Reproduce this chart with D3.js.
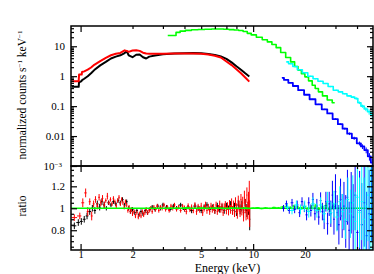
<!DOCTYPE html>
<html>
<head>
<meta charset="utf-8">
<script src="https://cdn.jsdelivr.net/npm/d3@7"></script>
<style>
body { margin: 0; background: #fff; }
svg { display: block; font-family: "Liberation Serif", "Times New Roman", "DejaVu Serif", serif; }
.domain { display: none; }
.tick line { stroke: #000; stroke-width: 1.2; }
.tick text { font-family: "Liberation Serif", "Times New Roman", "DejaVu Serif", serif; font-size: 11px; fill: #000; }
</style>
</head>
<body>
<svg width="374" height="274"></svg>
<script>
/*
DATA
*/
// soft band spectra (black and red share the energy grid), keV
var softEnergy = [0.89,0.975,0.98,1.0,1.015,1.02,1.05,1.1,1.15,1.2,1.3,1.4,1.5,1.6,1.7,1.8,1.85,1.9,2.0,2.1,2.2,2.3,2.4,2.5,2.7,3.0,3.5,4.0,4.5,5.0,5.5,6.0,6.5,7.0,7.5,8.0,8.5,9.0,9.5];
var blackCounts = [0.44,0.44,0.65,0.65,0.7,0.74,0.82,1.0,1.25,1.6,2.3,3.0,3.9,4.5,5.0,5.9,6.8,5.0,4.3,5.2,5.3,4.3,3.9,4.5,4.9,5.4,5.7,5.8,5.9,5.8,5.5,5.1,4.6,3.8,2.9,2.15,1.65,1.25,0.98];
var redCounts = [0.68,0.68,1.14,1.14,1.14,1.38,1.45,1.65,1.95,2.4,3.2,4.1,5.0,5.6,6.0,7.3,7.0,6.5,7.2,7.4,7.0,6.1,5.7,5.6,5.6,5.6,5.7,5.7,5.7,5.6,5.3,4.8,4.2,3.1,2.35,1.7,1.25,0.9,0.66];

var greenEnergy = [3.2,3.5,3.65,3.9,4.2,4.6,5.0,5.5,6.0,6.5,7.0,7.5,8.0,8.5,9.0,9.5,10,10.9,11.7,12.5,13.2,14,14.9,16,17,17.8,18.6,19.5,20.4,21.5,22.5,23.3,24.5,26,27.8,29.7];
var greenCounts = [23,23,29,32,34,35.5,36.5,37,37.5,37.5,37,36,35,33.5,31,27,24,20,16.5,14,11.5,9,6.2,4.2,3.0,2.1,1.6,1.2,0.95,0.7,0.5,0.39,0.3,0.22,0.16,0.13];

var cyanEnergy = [15.6,16.5,17.5,18.6,20,21.5,23,24.5,26.4,28,30.3,32,34,36,38,39.6,41.3,43,45,47,49];
var cyanCounts = [3.0,2.6,2.1,1.65,1.3,1.0,0.82,0.68,0.57,0.45,0.34,0.3,0.26,0.22,0.2,0.18,0.13,0.1,0.08,0.065,0.05];
var cyanErr = [0.03,0.03,0.03,0.03,0.03,0.035,0.04,0.04,0.045,0.05,0.05,0.06,0.06,0.07,0.08,0.09,0.1,0.12,0.15,0.2,0.3];

var blueEnergy = [14.7,15.5,16.5,17.5,19.0,20.5,22,24,26,27.8,30,32,34,36.2,38.5,41.3,43,45.2,47.2,49];
var blueCounts = [0.88,0.75,0.6,0.47,0.34,0.24,0.17,0.115,0.078,0.057,0.037,0.025,0.0177,0.012,0.0085,0.0057,0.0045,0.0034,0.0021,0.0013];
var blueErr = [0.02,0.02,0.02,0.025,0.03,0.03,0.035,0.04,0.05,0.05,0.06,0.07,0.08,0.1,0.12,0.15,0.18,0.22,0.28,0.35];

// ratio panel: [energy, ratio, error]
var blackRatio = [[0.92,0.84,0.03],[0.97,0.87,0.03],[1.01,0.88,0.03],[1.05,0.90,0.03],[1.09,0.93,0.03],[1.13,0.97,0.03],[1.17,1.00,0.03],[1.21,0.98,0.03],[1.25,1.04,0.03],[1.29,1.01,0.03],[1.33,1.06,0.03],[1.37,1.03,0.03],[1.41,1.00,0.02],[1.45,1.05,0.02],[1.50,1.03,0.02],[1.55,1.06,0.02],[1.60,1.04,0.02],[1.65,1.07,0.02],[1.70,1.05,0.02],[1.75,1.08,0.02],[1.80,1.03,0.02],[1.85,1.06,0.02],[1.90,1.00,0.02],[1.95,0.97,0.02],[2.00,0.99,0.02],[2.06,0.96,0.02],[2.12,0.98,0.02],[2.18,0.94,0.02],[2.24,0.97,0.02],[2.30,0.95,0.02],[2.37,0.98,0.02],[2.44,0.96,0.02],[2.52,0.99,0.02],[2.60,1.01,0.02],[2.70,0.99,0.02],[2.80,1.02,0.02],[2.90,1.00,0.02],[3.0,1.03,0.02],[3.15,1.01,0.02],[3.3,0.99,0.02],[3.45,1.02,0.02],[3.6,1.00,0.02],[3.8,1.03,0.02],[4.0,0.99,0.02],[4.2,1.01,0.02],[4.4,0.98,0.025],[4.6,1.02,0.025],[4.8,1.00,0.025],[5.0,0.98,0.025],[5.2,1.01,0.025],[5.4,1.03,0.025],[5.6,0.99,0.025],[5.8,1.01,0.025],[6.0,0.98,0.03],[6.2,1.02,0.03],[6.4,0.99,0.03],[6.6,1.01,0.03],[6.8,0.98,0.03],[7.0,1.02,0.03],[7.2,0.99,0.035],[7.4,1.03,0.035],[7.6,0.98,0.035],[7.8,1.01,0.04],[8.0,0.97,0.04],[8.2,1.03,0.04],[8.4,0.99,0.045],[8.6,1.02,0.05],[8.8,0.96,0.05],[9.0,1.03,0.055],[9.2,0.98,0.06],[9.4,1.01,0.07],[9.55,0.90,0.10]];
var redRatio = [[0.92,0.915,0.03],[0.99,0.93,0.03],[1.03,1.05,0.04],[1.07,1.14,0.04],[1.10,0.97,0.04],[1.13,1.06,0.03],[1.16,0.93,0.04],[1.19,1.04,0.03],[1.22,1.08,0.03],[1.25,1.02,0.03],[1.28,1.10,0.03],[1.31,1.05,0.03],[1.34,1.09,0.03],[1.37,1.03,0.03],[1.40,1.07,0.02],[1.43,1.11,0.03],[1.46,1.05,0.02],[1.49,1.08,0.02],[1.52,1.04,0.02],[1.55,1.09,0.02],[1.58,1.06,0.02],[1.61,1.02,0.02],[1.64,1.07,0.02],[1.67,1.10,0.02],[1.70,1.04,0.02],[1.73,1.08,0.02],[1.76,1.05,0.02],[1.79,1.01,0.02],[1.82,1.06,0.02],[1.85,1.03,0.02],[1.88,0.98,0.02],[1.91,1.01,0.02],[1.94,0.97,0.02],[1.97,0.99,0.02],[2.00,0.95,0.02],[2.04,0.97,0.02],[2.08,0.93,0.02],[2.12,0.96,0.02],[2.16,0.92,0.02],[2.20,0.95,0.02],[2.24,0.93,0.02],[2.28,0.97,0.02],[2.32,0.94,0.02],[2.36,0.96,0.02],[2.40,0.99,0.02],[2.45,0.96,0.02],[2.50,0.98,0.02],[2.55,1.00,0.02],[2.60,0.97,0.02],[2.66,1.01,0.02],[2.72,0.99,0.02],[2.78,1.02,0.02],[2.84,0.98,0.02],[2.90,1.01,0.02],[2.97,1.00,0.02],[3.04,1.03,0.02],[3.11,0.99,0.02],[3.18,1.01,0.02],[3.26,0.98,0.02],[3.34,1.02,0.02],[3.42,1.00,0.02],[3.50,1.03,0.02],[3.6,0.99,0.02],[3.7,1.01,0.02],[3.8,0.98,0.02],[3.9,1.02,0.02],[4.0,1.00,0.025],[4.1,0.97,0.025],[4.2,1.02,0.025],[4.3,0.99,0.025],[4.4,1.01,0.025],[4.5,0.98,0.025],[4.6,1.03,0.025],[4.7,0.97,0.03],[4.8,1.01,0.03],[4.9,0.99,0.03],[5.0,1.02,0.03],[5.1,0.96,0.03],[5.2,1.00,0.03],[5.3,1.03,0.03],[5.4,0.98,0.03],[5.5,1.01,0.03],[5.6,0.97,0.03],[5.7,1.02,0.03],[5.8,0.99,0.03],[5.9,1.01,0.03],[6.0,0.98,0.03],[6.1,1.03,0.03],[6.2,0.97,0.03],[6.3,1.00,0.03],[6.4,1.04,0.03],[6.5,0.99,0.03],[6.6,1.02,0.03],[6.7,0.96,0.03],[6.8,1.01,0.035],[6.9,1.03,0.035],[7.0,0.98,0.035],[7.1,1.02,0.035],[7.2,0.97,0.035],[7.3,1.04,0.035],[7.4,0.99,0.04],[7.5,1.05,0.04],[7.6,0.98,0.04],[7.7,1.03,0.04],[7.8,0.96,0.04],[7.9,1.06,0.04],[8.0,1.00,0.045],[8.1,0.95,0.045],[8.2,1.07,0.045],[8.3,1.02,0.05],[8.4,0.97,0.05],[8.5,1.08,0.05],[8.6,0.99,0.055],[8.7,1.05,0.055],[8.8,0.94,0.06],[8.9,1.10,0.06],[9.0,1.02,0.065],[9.1,0.96,0.07],[9.2,1.12,0.07],[9.3,0.98,0.08],[9.4,1.06,0.09],[9.5,1.07,0.18],[9.55,0.95,0.12]];
var greenRatio = [[3.3,1.0,0.004],[3.7,1.0,0.004],[4.1,1.005,0.004],[4.5,0.998,0.004],[5.0,1.003,0.004],[5.5,0.997,0.004],[6.0,1.002,0.004],[6.5,1.0,0.004],[7.0,0.996,0.004],[7.5,1.003,0.004],[8.0,1.0,0.004],[8.5,0.998,0.004],[9.0,1.004,0.005],[9.5,0.997,0.005],[10,1.002,0.005],[10.6,1.006,0.005],[11.2,0.996,0.005],[11.8,1.004,0.006],[12.5,0.998,0.006],[13.2,1.008,0.007],[14,1.004,0.008],[14.8,1.012,0.009],[15.6,1.018,0.01],[16.4,1.008,0.011],[17.2,1.02,0.012],[18,1.012,0.013],[18.9,1.005,0.014],[19.8,1.016,0.015],[20.8,0.995,0.016],[21.8,1.01,0.018],[22.9,1.02,0.02],[24,0.99,0.022],[25.2,1.012,0.025],[26.5,1.025,0.028],[27.8,0.99,0.03],[29.2,1.015,0.035]];
var blueRatio = [[15.0,1.00,0.03],[15.6,1.04,0.03],[16.2,0.98,0.03],[16.8,1.05,0.035],[17.4,0.99,0.035],[18.0,1.03,0.04],[18.6,0.96,0.04],[19.2,1.06,0.04],[19.8,1.01,0.045],[20.4,0.94,0.05],[21.0,1.05,0.05],[21.6,0.98,0.055],[22.2,1.08,0.06],[22.8,0.95,0.06],[23.4,1.02,0.065],[24.0,0.92,0.07],[24.6,1.07,0.075],[25.2,0.97,0.08],[25.8,0.90,0.09],[26.4,1.06,0.09],[27.0,0.86,0.10],[27.6,1.04,0.11],[28.2,0.95,0.12],[28.8,1.12,0.13],[29.4,0.90,0.14],[30.0,1.15,0.16],[30.7,0.96,0.16],[31.4,0.85,0.18],[32.1,1.08,0.19],[32.8,0.93,0.2],[33.6,1.02,0.22],[34.4,0.88,0.24],[35.2,1.10,0.25],[36.0,0.80,0.26],[37.0,1.05,0.28],[38.0,0.92,0.3],[39.0,1.12,0.32],[40.2,0.78,0.34],[41.4,0.98,0.36],[42.6,0.85,0.38],[44,1.05,0.4],[45.5,0.75,0.4],[47,0.95,0.4],[48.5,1.1,0.4]];
var cyanRatio = [[15.8,1.01,0.03],[16.8,0.98,0.035],[17.8,1.03,0.04],[18.8,0.99,0.045],[19.9,1.02,0.05],[21.0,0.97,0.055],[22.2,1.04,0.06],[23.4,0.98,0.065],[24.6,1.03,0.07],[25.8,0.95,0.08],[27.0,1.06,0.09],[28.2,0.96,0.1],[29.4,1.04,0.12],[30.6,0.92,0.13],[31.8,1.06,0.14],[33.0,0.97,0.16],[34.2,0.90,0.18],[35.4,1.08,0.2],[36.6,0.95,0.22],[37.8,1.05,0.25],[39.0,0.88,0.27],[40.2,1.10,0.3],[41.4,0.96,0.32],[42.6,1.06,0.35],[43.8,0.90,0.38],[45.0,1.02,0.4],[46.3,1.12,0.42],[47.6,0.92,0.45],[48.9,1.05,0.45]];

// ticks
var xLabels = [1, 2, 5, 10, 20];
var xMajor = [1, 10];
var xMinor = [2, 3, 4, 5, 6, 7, 8, 9, 20, 30, 40];
var topLabels = [10, 1, 0.1, 0.01, 0.001];
var ratioLabels = [0.8, 1, 1.2];

/*
LAYOUT
*/
var svg = d3.select("svg");
var xLeft = 71, xRight = 373, yTopEdge = 26, yMid = 166, yBottom = 250;

var x = d3.scaleLog().domain([0.88, 49.5]).range([xLeft, xRight]);
var yTop = d3.scaleLog().domain([0.001, 47.5]).range([yMid, yTopEdge]);
var yRat = d3.scaleLinear().domain([0.62, 1.385]).range([yBottom, yMid]);

// clip for the two panels
var defs = svg.append("defs");
defs.append("clipPath").attr("id", "clipTop").append("rect")
	.attr("x", xLeft).attr("y", yTopEdge).attr("width", xRight - xLeft).attr("height", yMid - yTopEdge);
defs.append("clipPath").attr("id", "clipRat").append("rect")
	.attr("x", xLeft).attr("y", yMid).attr("width", xRight - xLeft).attr("height", yBottom - yMid);

var gTop = svg.append("g").attr("clip-path", "url(#clipTop)");
var gRat = svg.append("g").attr("clip-path", "url(#clipRat)");

/*
TOP PANEL: spectra
*/
var stepLine = d3.line()
	.x(function(d){ return x(d[0]) })
	.y(function(d){ return yTop(d[1]) })
	.curve(d3.curveStep);
var plainLine = d3.line()
	.x(function(d){ return x(d[0]) })
	.y(function(d){ return yTop(d[1]) });

function spectrum(energy, counts, color, width, gen){
	gTop.append("path")
		.datum(d3.zip(energy, counts))
		.attr("d", gen)
		.attr("fill", "none")
		.attr("stroke", color)
		.attr("stroke-width", width)
		.attr("stroke-linejoin", "round");
}

function errorBars(energy, counts, err, color){
	gTop.append("g").attr("stroke", color).attr("stroke-width", 1)
		.selectAll("line")
		.data(d3.zip(energy, counts, err))
		.enter().append("line")
		.attr("x1", function(d){ return x(d[0]) })
		.attr("x2", function(d){ return x(d[0]) })
		.attr("y1", function(d){ return yTop(d[1] * (1 + d[2])) })
		.attr("y2", function(d){ return yTop(d[1] * (1 - d[2])) });
}

spectrum(softEnergy, blackCounts, "#000000", 2, plainLine);
spectrum(softEnergy, redCounts, "#ff0000", 2, plainLine);
spectrum(greenEnergy, greenCounts, "#00ff00", 1.6, stepLine);
spectrum(blueEnergy, blueCounts, "#0000ff", 1.8, stepLine);
errorBars(blueEnergy, blueCounts, blueErr, "#0000ff");
spectrum(cyanEnergy, cyanCounts, "#00ffff", 1.6, stepLine);
errorBars(cyanEnergy, cyanCounts, cyanErr, "#00ffff");

/*
BOTTOM PANEL: ratio crosses
*/
function ratioCrosses(rows, color){
	// bin edges half way (log) to the neighbours
	var edges = rows.map(function(d, i){
		var prev = i > 0 ? rows[i-1][0] : d[0] * d[0] / rows[i+1][0];
		var next = i < rows.length - 1 ? rows[i+1][0] : d[0] * d[0] / rows[i-1][0];
		return [Math.sqrt(prev * d[0]), Math.sqrt(d[0] * next)];
	});
	var g = gRat.append("g").attr("stroke", color).attr("stroke-width", 1);
	g.selectAll(".h").data(rows).enter().append("line").attr("class", "h")
		.attr("x1", function(d, i){ return x(edges[i][0]) })
		.attr("x2", function(d, i){ return x(edges[i][1]) })
		.attr("y1", function(d){ return yRat(d[1]) })
		.attr("y2", function(d){ return yRat(d[1]) });
	g.selectAll(".v").data(rows).enter().append("line").attr("class", "v")
		.attr("x1", function(d){ return x(d[0]) })
		.attr("x2", function(d){ return x(d[0]) })
		.attr("y1", function(d){ return yRat(d[1] + d[2]) })
		.attr("y2", function(d){ return yRat(d[1] - d[2]) });
}

ratioCrosses(blackRatio, "#000000");
ratioCrosses(redRatio, "#ff0000");
// unity line
gRat.append("line")
	.attr("x1", xLeft).attr("x2", xRight)
	.attr("y1", yRat(1)).attr("y2", yRat(1))
	.attr("stroke", "#00ff00").attr("stroke-width", 1.6);
ratioCrosses(greenRatio, "#00ff00");
ratioCrosses(blueRatio, "#0000ff");
ratioCrosses(cyanRatio, "#00ffff");

/*
FRAMES AND TICKS
*/
function xTicks(yPos, up){
	var ax = up ? d3.axisBottom(x) : d3.axisTop(x);
	svg.append("g").attr("transform", "translate(0," + yPos + ")")
		.call(ax.tickValues(xMajor).tickSize(-6).tickFormat(""));
	svg.append("g").attr("transform", "translate(0," + yPos + ")")
		.call(ax.tickValues(xMinor).tickSize(-3).tickFormat(""));
}

function yTicks(scale, major, minor){
	[[d3.axisLeft(scale), xLeft], [d3.axisRight(scale), xRight]].forEach(function(p){
		svg.append("g").attr("transform", "translate(" + p[1] + ",0)")
			.call(p[0].tickValues(major).tickSize(-6).tickFormat(""));
		svg.append("g").attr("transform", "translate(" + p[1] + ",0)")
			.call(p[0].tickValues(minor).tickSize(-3).tickFormat(""));
	});
}

xTicks(yTopEdge, false);
xTicks(yMid, true);
xTicks(yMid, false);
xTicks(yBottom, true);

var isDecade = function(d){ return Math.abs(Math.log10(d) - Math.round(Math.log10(d))) < 1e-6 };
yTicks(yTop, topLabels, yTop.ticks().filter(function(d){ return !isDecade(d) }));
yTicks(yRat, ratioLabels, yRat.ticks(15).filter(function(d){
	return ratioLabels.every(function(r){ return Math.abs(r - d) > 1e-6 });
}));

svg.append("rect")
	.attr("x", xLeft).attr("y", yTopEdge).attr("width", xRight - xLeft).attr("height", yMid - yTopEdge)
	.attr("fill", "none").attr("stroke", "#000").attr("stroke-width", 1.5);
svg.append("rect")
	.attr("x", xLeft).attr("y", yMid).attr("width", xRight - xLeft).attr("height", yBottom - yMid)
	.attr("fill", "none").attr("stroke", "#000").attr("stroke-width", 1.5);

/*
TICK LABELS
*/
var xAxisLabels = svg.append("g").attr("transform", "translate(0," + yBottom + ")")
	.call(d3.axisBottom(x).tickValues(xLabels).tickSize(0).tickPadding(1).tickFormat(d3.format("~g")));
xAxisLabels.selectAll(".tick text").style("font-size", "10.5px");

var topAxis = svg.append("g").attr("transform", "translate(" + xLeft + ",0)")
	.call(d3.axisLeft(yTop).tickValues(topLabels).tickSize(0).tickPadding(6).tickFormat(d3.format("~g")));
// 10^-3 as a power
topAxis.selectAll(".tick text").filter(function(d){ return d === 0.001 })
	.text("10")
	.attr("x", -9)
	.append("tspan").attr("dy", "-0.45em").style("font-size", "7px").text("\u22123");

svg.append("g").attr("transform", "translate(" + xLeft + ",0)")
	.call(d3.axisLeft(yRat).tickValues(ratioLabels).tickSize(0).tickPadding(6).tickFormat(d3.format("~g")));

/*
AXIS TITLES
*/
var yTitle = svg.append("text")
	.attr("transform", "translate(26,95) rotate(-90)")
	.attr("text-anchor", "middle")
	.style("font-size", "11.5px");
yTitle.append("tspan").text("normalized counts s");
yTitle.append("tspan").attr("dy", -4).style("font-size", "7px").text("\u22121");
yTitle.append("tspan").attr("dy", 4).text(" keV");
yTitle.append("tspan").attr("dy", -4).style("font-size", "7px").text("\u22121");

svg.append("text")
	.attr("transform", "translate(26,206) rotate(-90)")
	.attr("text-anchor", "middle")
	.style("font-size", "11.5px")
	.text("ratio");

svg.append("text")
	.attr("x", 227.5).attr("y", 272)
	.attr("text-anchor", "middle")
	.style("font-size", "12px")
	.text("Energy (keV)");
</script>
</body>
</html>
